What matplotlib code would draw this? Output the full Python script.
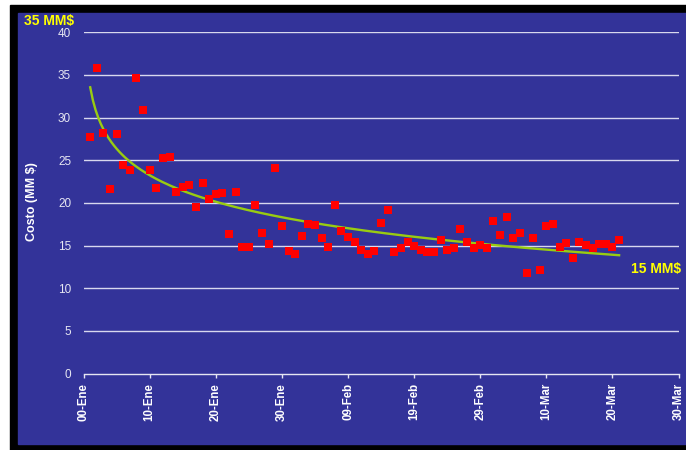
import numpy as np
import matplotlib
matplotlib.use('Agg')
import matplotlib.pyplot as plt
from matplotlib.patches import Rectangle

plt.rcParams['font.family'] = ['Liberation Sans', 'DejaVu Sans']

# Costo diario (MM $) por día contado desde el 00-Ene
dias = np.arange(1, 82)
costo = [
    27.7, 35.8, 28.2, 21.6, 28.1, 24.5, 23.9, 34.6, 30.9, 23.8,
    21.7, 25.3, 25.4, 21.3, 21.9, 22.1, 19.5, 22.3, 20.5, 21.1,
    21.2, 16.35, 21.3, 14.8, 14.8, 19.75, 16.5, 15.2, 24.1, 17.3,
    14.4, 14.0, 16.1, 17.5, 17.45, 15.85, 14.8, 19.75, 16.75, 16.05,
    15.4, 14.5, 14.0, 14.35, 17.6, 19.2, 14.2, 14.75, 15.4, 14.95,
    14.45, 14.2, 14.25, 15.6, 14.45, 14.7, 16.9, 15.4, 14.75, 15.05,
    14.75, 17.9, 16.2, 18.4, 15.85, 16.5, 11.8, 15.85, 12.1, 17.3,
    17.5, 14.85, 15.3, 13.55, 15.4, 15.05, 14.75, 15.2, 15.2, 14.85,
    15.6,
]
ticks_x = [0, 10, 20, 30, 40, 50, 60, 70, 80, 90]
etiquetas_x = ['00-Ene', '10-Ene', '20-Ene', '30-Ene', '09-Feb', '19-Feb',
               '29-Feb', '10-Mar', '20-Mar', '30-Mar']
ticks_y = [0, 5, 10, 15, 20, 25, 30, 35, 40]

azul = '#333399'
fig = plt.figure(figsize=(6.86, 4.5), dpi=100)
fig.patch.set_facecolor('white')

# marco negro y panel azul
W, H = 686, 450
fig.patches.append(Rectangle((10 / W, 0), 1 - 10 / W, 445 / H,
                             transform=fig.transFigure, color='black', zorder=-2))
fig.patches.append(Rectangle((18 / W, 6 / H), 1 - 18 / W, 431 / H,
                             transform=fig.transFigure, color=azul, zorder=-1))

ax = fig.add_axes([83.6 / W, 76.5 / H, 595 / W, 341.2 / H])
ax.set_zorder(1)
ax.set_facecolor(azul)

# tendencia logarítmica ajustada a los datos
b, a = np.polyfit(np.log(dias), costo, 1)
xt = np.linspace(1, 81, 200)
ax.plot(xt, a + b * np.log(xt), color='#99cc11', lw=1.7, zorder=3)

ax.plot(dias, costo, 's', color='#ff0000', markersize=5.2, markeredgewidth=0, zorder=4)

ax.set_xlim(0, 90)
ax.set_ylim(0, 40)
ax.set_xticks(ticks_x)
ax.set_xticklabels(etiquetas_x, rotation=90, fontsize=8.3, fontweight='bold', color='white')
ax.set_yticks(ticks_y)
ax.set_yticklabels([str(v) for v in ticks_y], fontsize=8.5, color='#e6e6f2')

for v in ticks_y[1:]:
    ax.axhline(v, color='#d8d8ee', lw=1, zorder=1)

for s in ['top', 'right', 'left']:
    ax.spines[s].set_visible(False)
ax.spines['bottom'].set_color('#e6e6f2')
ax.spines['bottom'].set_linewidth(1)
ax.tick_params(axis='x', direction='out', length=3, width=1, color='#e6e6f2', pad=4)
ax.tick_params(axis='y', length=0, pad=9)

ax.set_ylabel('Costo (MM $)', fontsize=9, fontweight='bold', color='white')
ax.yaxis.set_label_coords(-0.077, 0.505)

fig.text(24 / W, 1 - 21 / H, '35 MM$', color='#ffff00', fontsize=10,
         fontweight='bold', va='center', ha='left')
fig.text(631 / W, 1 - 269 / H, '15 MM$', color='#ffff00', fontsize=10,
         fontweight='bold', va='center', ha='left')

fig.savefig('out.png', dpi=100, facecolor=fig.get_facecolor())
